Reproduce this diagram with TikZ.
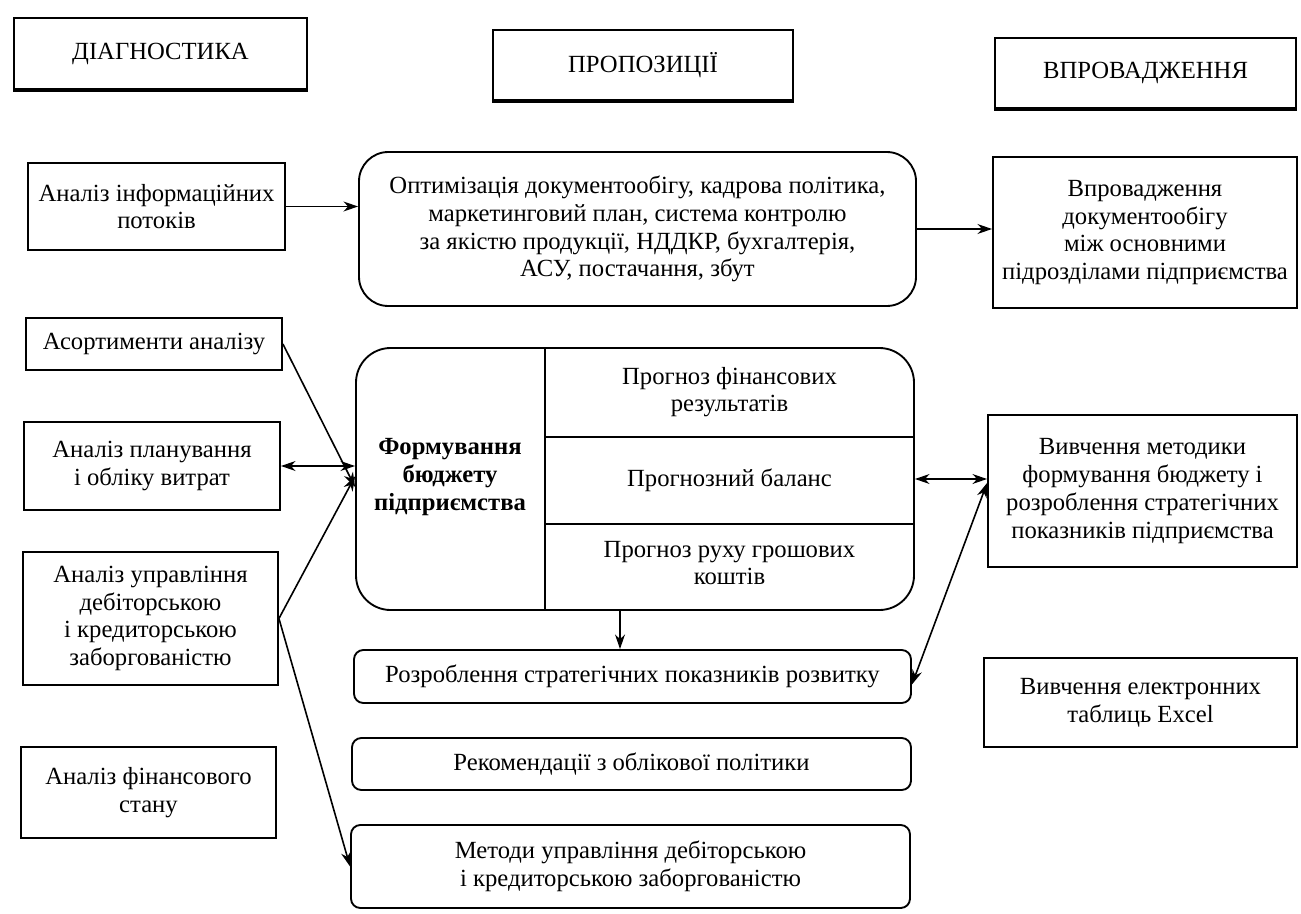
\documentclass[tikz,border=0pt]{standalone}
\usepackage{fontspec}
\setmainfont{Liberation Serif}
\usetikzlibrary{arrows.meta}
\tikzset{
  wh/.style 2 args={minimum width=#1*0.75pt, minimum height=#2*0.75pt},
  txt/.style={align=center, font=\fontsize{18.5}{20.8}\selectfont},
  box/.style={txt, draw, line width=1.4pt, inner sep=1pt},
  rbox/.style={box, rounded corners=22pt},
  sbox/.style={box, rounded corners=7pt},
  link/.style={line width=1.2pt, -{Stealth[length=11pt,width=7.5pt]}},
  twolink/.style={line width=1.2pt, {Stealth[length=11pt,width=7.5pt]}-{Stealth[length=11pt,width=7.5pt]}},
}
\begin{document}
\begin{tikzpicture}[x=0.75pt,y=0.75pt,yscale=-1,xscale=1]
\useasboundingbox (0,0) rectangle (1301,913);

% column heads
\node[box, wh={293}{71}] (diag) at (160.5,53.5) {ДІАГНОСТИКА};
\node[box, wh={300}{70}] (prop) at (643,65) {ПРОПОЗИЦІЇ};
\node[box, wh={301}{70}] (vpro) at (1145.5,73) {ВПРОВАДЖЕННЯ};
\foreach \h in {diag,prop,vpro}
  \draw[line width=2.4pt] (\h.south west) -- (\h.south east);

% diagnostics
\node[box, wh={257}{87}] (info) at (156.5,206.5) {Аналіз інформаційних\\потоків};
\node[box, wh={256}{52}] (ast) at (154,344) {Асортименти аналізу};
\node[box, wh={256}{88}] (plan) at (152,466) {Аналіз планування\\і обліку витрат};
\node[box, wh={255}{133}] (upr) at (150.5,618.5) {Аналіз управління\\дебіторською\\і кредиторською\\заборгованістю};
\node[box, wh={255}{91}] (fin) at (148.5,792.5) {Аналіз фінансового\\стану};

% proposals
\node[rbox, wh={557}{154}] (opt) at (637.5,229) {Оптимізація документообігу, кадрова політика,\\маркетинговий план, система контролю\\за якістю продукції, НДДКР, бухгалтерія,\\АСУ, постачання, збут};
\node[rbox, rounded corners=26pt, wh={558}{262}] (budget) at (635,479) {};
\node[txt] (form) at (450,477) {\bfseries Формування\\\bfseries бюджету\\\bfseries підприємства};
\node[txt] (res) at (729.5,392) {Прогноз фінансових\\результатів};
\node[txt] (bal) at (729.5,480) {Прогнозний баланс};
\node[txt] (cash) at (729.5,563) {Прогноз руху грошових\\коштів};
\draw[line width=1.4pt] (budget.north -| 545,0) -- (budget.south -| 545,0);
\draw[line width=1.4pt] (545,437) -- (545,437 -| budget.east);
\draw[line width=1.4pt] (545,524) -- (545,524 -| budget.east);
\node[sbox, wh={557}{53}] (rozr) at (632.5,676.5) {Розроблення стратегічних показників розвитку};
\node[sbox, wh={559}{52}] (rek) at (631.5,764) {Рекомендації з облікової політики};
\node[sbox, wh={559}{83}] (met) at (630.5,866.5) {Методи управління дебіторською\\і кредиторською заборгованістю};

% implementation
\node[box, wh={304}{151}] (vpr) at (1145,232.5) {Впровадження\\документообігу\\між основними\\підрозділами підприємства};
\node[box, wh={309}{152}] (vyv) at (1142.5,491) {Вивчення методики\\формування бюджету і\\розроблення стратегічних\\показників підприємства};
\node[box, wh={313}{89}] (excel) at (1140.5,702.5) {Вивчення електронних\\таблиць Excel};

% arrows
\draw[link] (info.east) -- (info.east -| opt.west);
\draw[link] (opt.east) -- (opt.east -| vpr.west);
\draw[link] (ast.east) -- ([yshift=6pt]budget.west);
\draw[twolink] (plan.east) -- (plan.east -| budget.west);
\draw[link] (upr.east) -- ([yshift=-2pt]budget.west);
\draw[link] (upr.east) -- (met.west);
\draw[link] (budget.south -| 620,0) -- (rozr.north -| 620,0);
\draw[twolink] (budget.east) -- (budget.east -| vyv.west);
\draw[twolink] ([yshift=6pt]rozr.east) -- ([yshift=-6pt]vyv.west);

\end{tikzpicture}
\end{document}
